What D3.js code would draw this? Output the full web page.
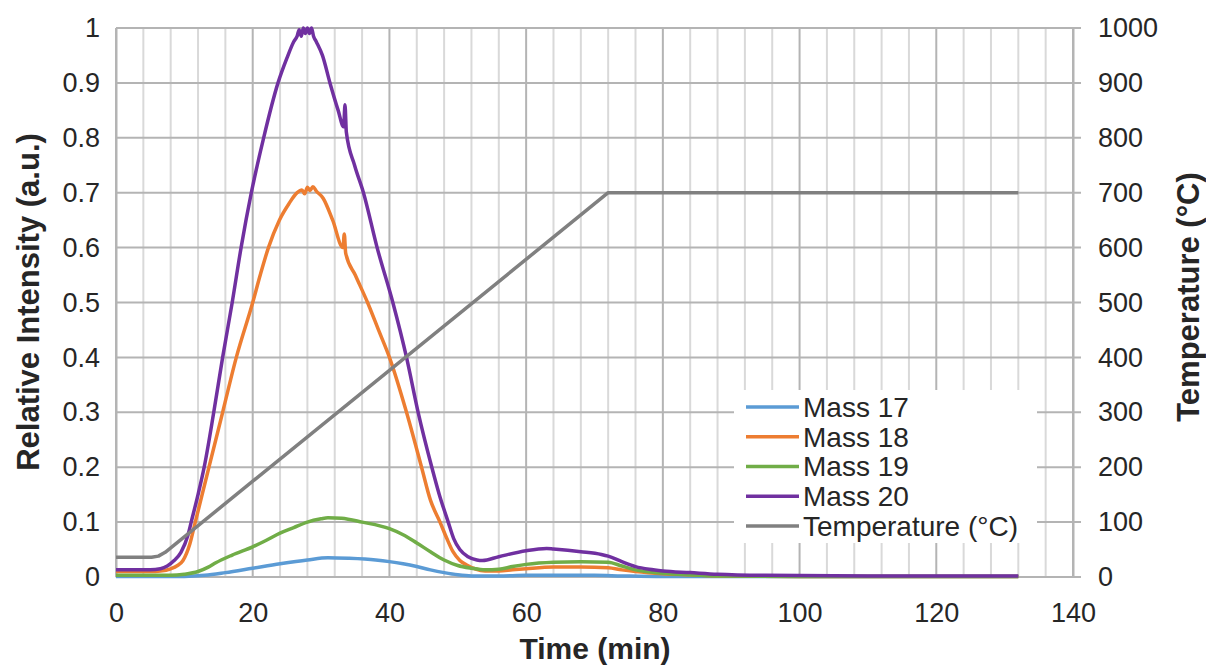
<!DOCTYPE html>
<html><head><meta charset="utf-8">
<script src="https://cdn.jsdelivr.net/npm/d3@7"></script>
<style>
html,body{margin:0;padding:0;background:#fff;}
svg{display:block;font-family:"Liberation Sans",Arial,sans-serif;}
</style>
</head><body>
<svg id="chart" width="1206" height="668"></svg>
<script>
// ---- data ----
const xTicks = [0, 20, 40, 60, 80, 100, 120, 140];
const yLeftTicks = [0, 0.1, 0.2, 0.3, 0.4, 0.5, 0.6, 0.7, 0.8, 0.9, 1];
const yRightTicks = [0, 100, 200, 300, 400, 500, 600, 700, 800, 900, 1000];
const seriesNames = ["Mass 17", "Mass 18", "Mass 19", "Mass 20", "Temperature (°C)"];
const seriesColors = ["#5B9BD5", "#ED7D31", "#70AD47", "#7030A0", "#808080"];

const mass17 = [[0,0.001],[10,0.001],[13,0.003],[16,0.008],[20,0.016],[24,0.024],[28,0.031],[31,0.035],[34,0.034],[38,0.031],[40,0.028],[42,0.024],[44,0.019],[46,0.013],[48,0.008],[50,0.004],[52,0.002],[56,0.002],[60,0.003],[70,0.003],[74,0.002],[80,0.001],[132,0.001]];

const mass18 = [[0,0.01],[5,0.01],[6.5,0.011],[8,0.015],[9,0.021],[9.8,0.03],[10.8,0.06],[11.6,0.1],[12.6,0.15],[13.6,0.2],[15.6,0.3],[17.6,0.4],[20,0.5],[21.1,0.55],[22.3,0.6],[23.9,0.65],[25.3,0.68],[26.5,0.7],[27.2,0.705],[27.6,0.698],[28,0.71],[28.4,0.704],[28.8,0.711],[29.3,0.703],[30.3,0.69],[31.7,0.65],[33.2,0.6],[33.4,0.625],[33.6,0.59],[35,0.55],[36.8,0.5],[38.4,0.45],[40,0.4],[42.5,0.3],[44.7,0.2],[46,0.14],[47.4,0.1],[48.4,0.07],[49.3,0.046],[50.3,0.03],[51.3,0.022],[52.5,0.015],[54,0.011],[56,0.011],[58,0.013],[60,0.015],[64,0.018],[68,0.018],[72,0.017],[74,0.013],[76,0.01],[80,0.006],[84,0.004],[88,0.002],[100,0.001],[132,0.001]];

const mass19 = [[0,0.003],[8,0.003],[10,0.005],[12,0.01],[13.5,0.018],[14.6,0.026],[17,0.04],[20,0.055],[22,0.067],[24,0.08],[26,0.09],[28,0.1],[30,0.106],[31,0.108],[33,0.107],[36,0.1],[40,0.088],[42,0.077],[44,0.062],[46,0.046],[48,0.031],[50,0.021],[52,0.016],[54,0.013],[56,0.014],[58,0.019],[60,0.023],[64,0.027],[68,0.028],[72,0.027],[74,0.02],[76,0.013],[80,0.007],[84,0.004],[88,0.002],[100,0.001],[132,0.001]];

const mass20 = [[0,0.013],[5,0.013],[6.5,0.015],[7.5,0.02],[8.5,0.03],[9.5,0.045],[10.5,0.075],[11,0.1],[12,0.15],[12.9,0.2],[14.3,0.3],[15.6,0.4],[17,0.5],[18.3,0.6],[19.8,0.7],[21.6,0.8],[23.7,0.9],[25,0.945],[26,0.975],[26.5,0.985],[26.8,0.997],[27.1,0.985],[27.4,1.0],[27.7,0.99],[28,1.0],[28.3,0.99],[28.6,1.0],[28.9,0.985],[29.3,0.975],[30.2,0.95],[31.3,0.9],[32.5,0.85],[33.3,0.82],[33.5,0.86],[33.7,0.81],[34.9,0.75],[36.2,0.7],[38.2,0.6],[40.5,0.5],[42.5,0.4],[44.2,0.3],[46.2,0.2],[47.3,0.15],[48.6,0.1],[49.4,0.07],[50.3,0.05],[51.5,0.037],[52.8,0.031],[53.6,0.03],[56,0.037],[60,0.048],[63,0.052],[64,0.051],[68,0.046],[71,0.041],[72,0.038],[74,0.028],[76,0.019],[78,0.014],[80,0.011],[84,0.008],[88,0.005],[95,0.003],[110,0.002],[132,0.002]];

const temperature = [[0,36],[5.2,36],[6.2,38],[7.2,45],[72,700],[132,700]];

// ---- layout ----
const svg = d3.select("#chart");
const L = 116, R = 1073, T = 28, B = 577;
const x = d3.scaleLinear().domain([0, 140]).range([L, R]);
const yL = d3.scaleLinear().domain([0, 1]).range([B, T]);
const yR = d3.scaleLinear().domain([0, 1000]).range([B, T]);

// minor vertical gridlines every 4 min
const minorX = d3.range(0, 141, 4).filter(v => v % 20 !== 0);
svg.append("g").selectAll("line").data(minorX).join("line")
  .attr("x1", d => x(d)).attr("x2", d => x(d)).attr("y1", T).attr("y2", B)
  .attr("stroke", "#D9D9D9").attr("stroke-width", 2);
// major vertical gridlines
svg.append("g").selectAll("line").data(xTicks).join("line")
  .attr("x1", d => x(d)).attr("x2", d => x(d)).attr("y1", T).attr("y2", B)
  .attr("stroke", "#B4B4B4").attr("stroke-width", 2);
// horizontal gridlines (extend into right-axis ticks)
svg.append("g").selectAll("line").data(yLeftTicks).join("line")
  .attr("x1", L).attr("x2", R + 8).attr("y1", d => yL(d)).attr("y2", d => yL(d))
  .attr("stroke", "#B4B4B4").attr("stroke-width", 2);

// axes labels via d3 axes
const fontTick = 27;
const gx = svg.append("g").attr("transform", `translate(0,${B})`)
  .call(d3.axisBottom(x).tickValues(xTicks).tickSize(0).tickPadding(32).tickFormat(d3.format("d")));
const gl = svg.append("g").attr("transform", `translate(${L},0)`)
  .call(d3.axisLeft(yL).tickValues(yLeftTicks).tickSize(0).tickPadding(16).tickFormat(d => d === 0 ? "0" : d === 1 ? "1" : d3.format(".1f")(d)));
const gr = svg.append("g").attr("transform", `translate(${R},0)`)
  .call(d3.axisRight(yR).tickValues(yRightTicks).tickSize(0).tickPadding(25).tickFormat(d3.format("d")));
[gx, gl, gr].forEach(g => {
  g.select(".domain").attr("stroke", "#B4B4B4").attr("stroke-width", 2);
  g.selectAll("text").attr("font-size", fontTick).attr("fill", "#262626")
    .attr("font-family", "Liberation Sans, Arial, sans-serif");
});
gx.select(".domain").remove();
gx.selectAll("text").attr("dy", "0.71em").attr("y", 26);

// lines
const smooth = (ys) => d3.line().x(d => x(d[0])).y(d => ys(d[1])).curve(d3.curveMonotoneX);
const straight = (ys) => d3.line().x(d => x(d[0])).y(d => ys(d[1])).curve(d3.curveLinear);
const allSeries = [mass17, mass18, mass19, mass20];
const lg = svg.append("g");
allSeries.forEach((s, i) => {
  lg.append("path").datum(s).attr("d", smooth(yL)).attr("fill", "none")
    .attr("stroke", seriesColors[i]).attr("stroke-width", 3.5).attr("stroke-linejoin", "round");
});
lg.append("path").datum(temperature).attr("d", straight(yR)).attr("fill", "none")
  .attr("stroke", seriesColors[4]).attr("stroke-width", 3.5).attr("stroke-linejoin", "round");

// legend
const leg = svg.append("g");
leg.append("rect").attr("x", 734).attr("y", 390).attr("width", 303).attr("height", 153).attr("fill", "#fff");
const rowY = d3.scaleLinear().domain([0, 4]).range([407, 526]);
seriesNames.forEach((n, i) => {
  leg.append("line").attr("x1", 746).attr("x2", 799).attr("y1", rowY(i)).attr("y2", rowY(i))
    .attr("stroke", seriesColors[i]).attr("stroke-width", 3.5);
  leg.append("text").attr("x", 803).attr("y", rowY(i)).attr("dy", "0.35em")
    .attr("font-size", 28).attr("fill", "#262626").text(n);
});

// axis titles
svg.append("text").attr("x", 595).attr("y", 659).attr("text-anchor", "middle")
  .attr("font-size", 30).attr("font-weight", "bold").attr("fill", "#262626").text("Time (min)");
svg.append("text").attr("transform", "translate(39,302) rotate(-90)").attr("text-anchor", "middle")
  .attr("font-size", 31).attr("font-weight", "bold").attr("fill", "#262626").text("Relative Intensity (a.u.)");
svg.append("text").attr("transform", "translate(1199,297) rotate(-90)").attr("text-anchor", "middle")
  .attr("font-size", 31).attr("font-weight", "bold").attr("fill", "#262626").text("Temperature (°C)");
</script>
</body></html>
